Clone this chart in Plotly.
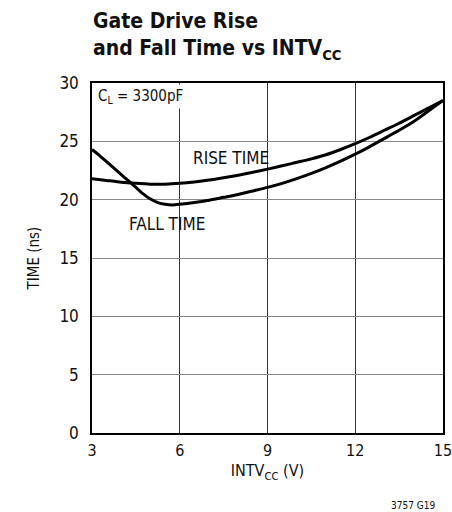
import plotly.graph_objects as go

# Data
intvcc = [3, 3.5, 4, 4.5, 5, 5.5, 6, 6.5, 7, 7.5, 8, 8.5, 9, 9.5, 10, 10.5,
          11, 11.5, 12, 12.5, 13, 13.5, 14, 14.5, 15]
rise_time = [21.8, 21.65, 21.5, 21.4, 21.33, 21.33, 21.4, 21.52, 21.68, 21.88, 22.1,
             22.35, 22.62, 22.9, 23.2, 23.5, 23.85, 24.3, 24.8, 25.35, 25.95, 26.55,
             27.2, 27.85, 28.5]

intvcc_fall = [3, 3.25, 3.5, 3.75, 4, 4.25, 4.5, 4.75, 5, 5.25, 5.5, 5.75, 6, 6.5, 7,
               7.5, 8, 8.5, 9, 9.5, 10, 10.5, 11, 11.5, 12, 12.5, 13, 13.5, 14, 14.5, 15]
fall_time = [24.3, 23.8, 23.25, 22.7, 22.15, 21.6, 21.05, 20.5, 20.05, 19.75, 19.6,
             19.55, 19.6, 19.75, 19.95, 20.2, 20.45, 20.75, 21.05, 21.4, 21.8, 22.25,
             22.75, 23.3, 23.9, 24.55, 25.25, 25.95, 26.7, 27.6, 28.5]

x_ticks = [3, 6, 9, 12, 15]
y_ticks = [0, 5, 10, 15, 20, 25, 30]

FONT = "DejaVu Sans Condensed, Liberation Sans Narrow, sans-serif"
TXT = "#111"

fig = go.Figure()
fig.add_trace(go.Scatter(x=intvcc, y=rise_time, mode="lines",
                         line=dict(color="black", width=3, shape="spline", smoothing=0.6),
                         showlegend=False, hoverinfo="skip"))
fig.add_trace(go.Scatter(x=intvcc_fall, y=fall_time, mode="lines",
                         line=dict(color="black", width=3, shape="spline", smoothing=0.6),
                         showlegend=False, hoverinfo="skip"))

fig.update_layout(
    width=452, height=512,
    margin=dict(l=92, r=9, t=83, b=79, autoexpand=False),
    paper_bgcolor="white", plot_bgcolor="white",
    font=dict(family=FONT, color=TXT, size=16),
    xaxis=dict(range=[3, 15], tickvals=x_ticks, ticktext=[str(v) for v in x_ticks],
               automargin=False, ticklabeloverflow="allow",
               showgrid=True, gridcolor="#333", gridwidth=1,
               showline=True, linecolor="black", linewidth=1.5, mirror=True,
               zeroline=False, ticks="", ticklabelstandoff=2,
               tickfont=dict(size=16, family=FONT, color=TXT),
               title=dict(text="INTV<sub>CC</sub> (V)", font=dict(size=16, family=FONT, color=TXT), standoff=6)),
    yaxis=dict(range=[0, 30], tickvals=y_ticks, ticktext=[str(v) for v in y_ticks],
               automargin=False, ticklabeloverflow="allow",
               showgrid=True, gridcolor="#888", gridwidth=1,
               showline=True, linecolor="black", linewidth=1.5, mirror=True,
               zeroline=False, ticks="", ticklabelstandoff=8,
               tickfont=dict(size=17, family=FONT, color=TXT),
               title=dict(text="TIME (ns)", font=dict(size=15, family=FONT, color=TXT), standoff=16)),
)

annotations = [
    dict(text="<b>Gate Drive Rise<br>and Fall Time vs INTV<sub>CC</sub></b>",
         xref="paper", yref="paper", x=0, y=1, xshift=-1, yshift=76,
         xanchor="left", yanchor="top", align="left", showarrow=False,
         font=dict(size=21, family=FONT, color=TXT)),
    dict(text="C<sub>L</sub> = 3300pF", xref="x", yref="y", x=3, y=29.9,
         xshift=3, xanchor="left", yanchor="top", showarrow=False, bgcolor="white",
         borderpad=2, font=dict(size=15, family=FONT, color=TXT)),
    dict(text="RISE TIME", xref="x", yref="y", x=7.75, y=23.6,
         xanchor="center", yanchor="middle", showarrow=False,
         font=dict(size=17, family=FONT, color=TXT)),
    dict(text="FALL TIME", xref="x", yref="y", x=5.55, y=17.9,
         xanchor="center", yanchor="middle", showarrow=False,
         font=dict(size=17, family=FONT, color=TXT)),
    dict(text="3757 G19", xref="paper", yref="paper", x=1, y=-72 / 350, xshift=-6,
         xanchor="right", yanchor="middle", showarrow=False,
         font=dict(size=10, family=FONT, color=TXT)),
]
fig.update_layout(annotations=annotations)

post = ("document.body.style.margin='0';document.body.style.overflow='hidden';"
        "var gd=document.getElementById('{plot_id}');"
        "Plotly.relayout(gd,{width:452,height:512});")
fig.write_html("out.html", config={"responsive": False, "displayModeBar": False},
               post_script=post)
